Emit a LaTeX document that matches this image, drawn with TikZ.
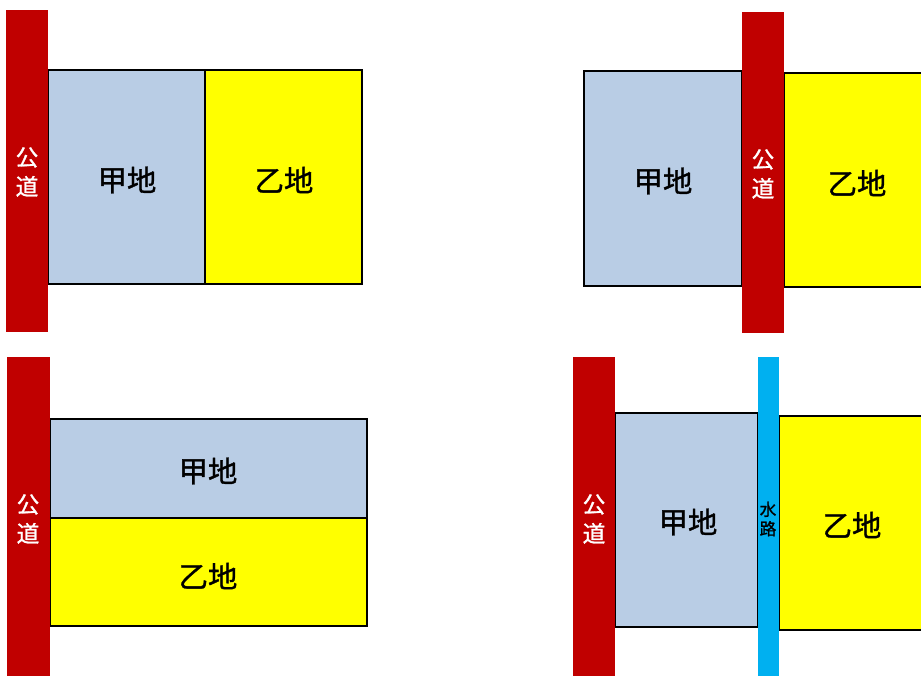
\documentclass[tikz,border=0pt]{standalone}
\usepackage{fontspec}
\setmainfont{Noto Sans CJK JP}
\newfontfamily\cjkm[FakeBold=1.2]{Noto Sans CJK JP}
\definecolor{roadred}{HTML}{C00000}
\definecolor{plotblue}{HTML}{B9CDE5}
\definecolor{plotyellow}{HTML}{FFFF00}
\definecolor{waterblue}{HTML}{00B0F0}
\tikzset{
  plotA/.style={fill=plotblue,draw=black,line width=1.5pt},
  plotB/.style={fill=plotyellow,draw=black,line width=1.5pt},
  road/.style={fill=roadred,draw=none},
  water/.style={fill=waterblue,draw=none},
  roadlabel/.style={text=white,font=\cjkm\fontsize{17}{22}\selectfont,align=center,inner sep=0pt},
  waterlabel/.style={text=black,font=\cjkm\fontsize{12.5}{14.5}\selectfont,align=center,inner sep=0pt},
  plotlabel/.style={text=black,font=\cjkm\fontsize{22}{26}\selectfont,inner sep=0pt}
}
\begin{document}
\begin{tikzpicture}[x=0.75pt,y=-0.75pt]
\clip (0,0) rectangle (921,675);
\fill[white] (0,0) rectangle (921,675);
% Panel 1
\draw[plotA] (48,70) rectangle (205,284);
\draw[plotB] (205,70) rectangle (362,284);
\fill[road] (6,10) rectangle (48,332);
\node[plotlabel] (p1a) at (127,180) {甲地};
\node[plotlabel] (p1b) at (284,180) {乙地};
\node[roadlabel] (p1r) at (27,172) {公\\道};
% Panel 2
\draw[plotA] (584,71) rectangle (742,286);
\draw[plotB] (784,73) rectangle (930,287);
\fill[road] (742,12) rectangle (784,333);
\node[plotlabel] (p2a) at (663,181) {甲地};
\node[plotlabel] (p2b) at (857,183) {乙地};
\node[roadlabel] (p2r) at (763,174) {公\\道};
% Panel 3
\draw[plotA] (50,419) rectangle (367,518);
\draw[plotB] (50,518) rectangle (367,626);
\fill[road] (7,357) rectangle (50,680);
\node[plotlabel] (p3a) at (208,471) {甲地};
\node[plotlabel] (p3b) at (208,576) {乙地};
\node[roadlabel] (p3r) at (28,519) {公\\道};
% Panel 4
\draw[plotA] (615,413) rectangle (758,627);
\draw[plotB] (779,416) rectangle (930,630);
\fill[road] (573,357) rectangle (615,680);
\fill[water] (758,357) rectangle (779,680);
\node[plotlabel] (p4a) at (688,522) {甲地};
\node[plotlabel] (p4b) at (852,525) {乙地};
\node[roadlabel] (p4r) at (594,519) {公\\道};
\node[waterlabel] (p4w) at (768,519) {水\\路};
\end{tikzpicture}
\end{document}
